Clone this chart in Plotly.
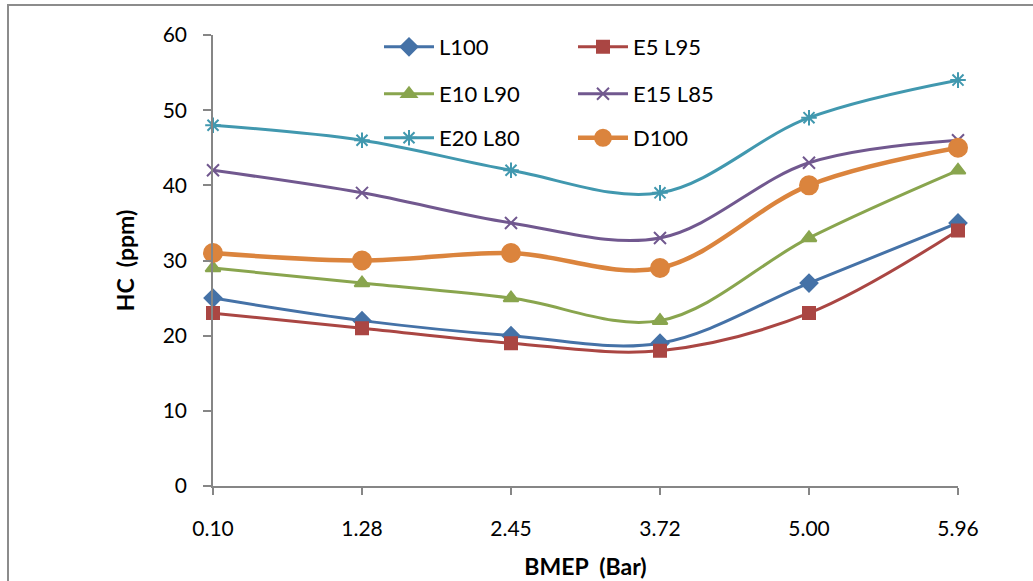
import plotly.graph_objects as go

# BMEP load points (bar) and HC emissions (ppm) for each fuel blend
bmep = ["0.10", "1.28", "2.45", "3.72", "5.00", "5.96"]

hc_l100 = [25, 22, 20, 19, 27, 35]
hc_e5_l95 = [23, 21, 19, 18, 23, 34]
hc_e10_l90 = [29, 27, 25, 22, 33, 42]
hc_e15_l85 = [42, 39, 35, 33, 43, 46]
hc_e20_l80 = [48, 46, 42, 39, 49, 54]
hc_d100 = [31, 30, 31, 29, 40, 45]

FONT = "Lato"

series = [
    # name, values, colour, marker symbol, marker size, line width, legend id
    ("L100", hc_l100, "#4572A7", "diamond", 13, 3, "legend"),
    ("E5 L95", hc_e5_l95, "#AA4643", "square", 12, 3, "legend"),
    ("E10 L90", hc_e10_l90, "#89A54E", "triangle-up", 13, 3, "legend2"),
    ("E15 L85", hc_e15_l85, "#71588F", "x-thin-open", 12, 3, "legend2"),
    ("E20 L80", hc_e20_l80, "#4198AF", "asterisk-open", 13, 3, "legend3"),
    ("D100", hc_d100, "#DB843D", "circle", 18, 4.5, "legend3"),
]

fig = go.Figure()
for name, vals, color, symbol, msize, lw, leg in series:
    fig.add_trace(go.Scatter(
        x=bmep, y=vals, name=name, mode="lines+markers",
        line=dict(color=color, width=lw, shape="spline", smoothing=1.0),
        marker=dict(symbol=symbol, size=msize, color=color,
                    line=dict(color=color, width=2)),
        cliponaxis=False, legend=leg,
    ))

W, H = 1033, 581
ml, mr, mt, mb = 213, 75, 35, 95
pw, ph = W - ml - mr, H - mt - mb


def px_x(x):
    return (x - ml) / pw


def px_y(y):
    return (H - mb - y) / ph


legend_common = dict(
    orientation="h", xanchor="left", yanchor="middle",
    entrywidth=129, entrywidthmode="pixels",
    font=dict(family=FONT, size=22, color="#000000"),
    bgcolor="rgba(0,0,0,0)", itemwidth=50,
)

fig.update_layout(
    width=W, height=H,
    margin=dict(l=ml, r=mr, t=mt, b=mb, autoexpand=False),
    paper_bgcolor="white", plot_bgcolor="white",
    font=dict(family=FONT, size=21, color="#000000"),
    showlegend=True,
    legend=dict(x=px_x(379), y=px_y(47), **legend_common),
    legend2=dict(x=px_x(379), y=px_y(94), **legend_common),
    legend3=dict(x=px_x(379), y=px_y(138), **legend_common),
    xaxis=dict(
        type="category", range=[0, 5], automargin=False,
        showline=True, linecolor="#868686", linewidth=1.5,
        ticks="outside", ticklen=7, tickcolor="#868686", tickwidth=1.5,
        showgrid=False, zeroline=False,
        tickfont=dict(family=FONT, size=21),
        ticklabelstandoff=16,
        title=dict(text="<b>BMEP&nbsp;&nbsp;(Bar)</b>",
                   font=dict(family=FONT, size=23), standoff=20),
    ),
    yaxis=dict(
        range=[0, 60], dtick=10, automargin=False,
        showline=True, linecolor="#868686", linewidth=1.5,
        ticks="outside", ticklen=8, tickcolor="#868686", tickwidth=1.5,
        showgrid=False, zeroline=False,
        tickfont=dict(family=FONT, size=21),
        ticklabelstandoff=12,
        title=dict(text="<b>HC&nbsp;&nbsp;(ppm)</b>",
                   font=dict(family=FONT, size=23), standoff=22),
    ),
    shapes=[dict(
        type="rect", xref="paper", yref="paper",
        x0=px_x(8), x1=px_x(1045), y0=px_y(595), y1=px_y(5),
        line=dict(color="#8c8c8c", width=2), fillcolor="rgba(0,0,0,0)",
        layer="below",
    )],
)

fig.write_html("out.html")
